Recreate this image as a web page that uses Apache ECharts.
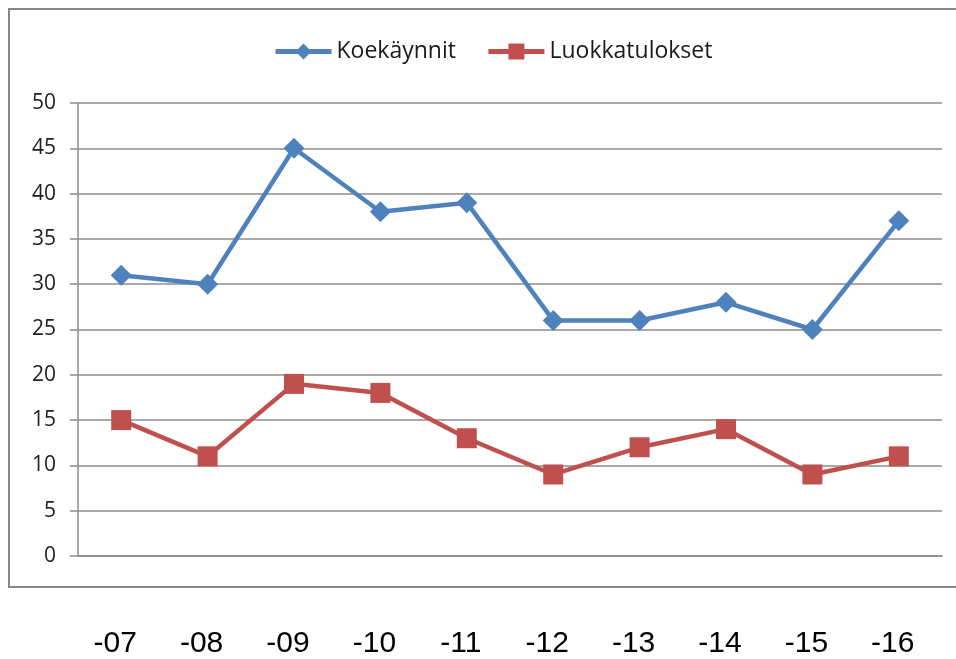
<!DOCTYPE html>
<html><head><meta charset="utf-8">
<script src="https://cdn.jsdelivr.net/npm/echarts@6/dist/echarts.min.js"></script>
<style>html,body{margin:0;padding:0;background:#fff}#c{width:956px;height:659px}</style>
</head><body><div id="c"></div>
<script>
const categories = ['-07','-08','-09','-10','-11','-12','-13','-14','-15','-16'];
const koekaynnit = [31, 30, 45, 38, 39, 26, 26, 28, 25, 37];
const luokkatulokset = [15, 11, 19, 18, 13, 9, 12, 14, 9, 11];
const yTicks = {min: 0, max: 50, interval: 5};

const chart = echarts.init(document.getElementById('c'));
chart.setOption({
  animation: false,
  backgroundColor: '#fff',
  graphic: [{
    type: 'rect', shape: {x: 9, y: 9, width: 960, height: 578},
    style: {fill: 'none', stroke: '#868686', lineWidth: 2}, z: -1
  }],
  legend: {
    top: 35, left: 268, itemGap: 30, itemWidth: 56, itemHeight: 20,
    lineStyle: {width: 5},
    textStyle: {fontFamily: 'Open Sans', fontSize: 23, color: '#1a1a1a'},
    data: ['Koekäynnit', 'Luokkatulokset']
  },
  grid: {left: 78, right: 14, top: 103, bottom: 102},
  xAxis: {
    type: 'category', data: categories, boundaryGap: true,
    axisLine: {lineStyle: {color: '#8c8c8c', width: 1.5}},
    axisTick: {show: false},
    axisLabel: {margin: 73, fontFamily: 'Liberation Sans', fontSize: 30, color: '#000', padding: [0, 12, 0, 0]}
  },
  yAxis: {
    type: 'value', min: yTicks.min, max: yTicks.max, interval: yTicks.interval,
    axisLine: {show: true, lineStyle: {color: '#8c8c8c', width: 1.5}},
    axisTick: {show: true, inside: false, length: 8, lineStyle: {color: '#8c8c8c', width: 1.5}},
    splitLine: {lineStyle: {color: '#8c8c8c', width: 1.5}},
    axisLabel: {margin: 22, fontFamily: 'Open Sans', fontSize: 21, color: '#222'}
  },
  series: [{
    name: 'Koekäynnit', type: 'line', data: koekaynnit,
    symbol: 'diamond', symbolSize: 21,
    lineStyle: {color: '#4F81BD', width: 4.5},
    itemStyle: {color: '#4F81BD'}
  }, {
    name: 'Luokkatulokset', type: 'line', data: luokkatulokset,
    symbol: 'rect', symbolSize: 20,
    lineStyle: {color: '#C0504D', width: 4.5},
    itemStyle: {color: '#C0504D'}
  }]
});
</script></body></html>
